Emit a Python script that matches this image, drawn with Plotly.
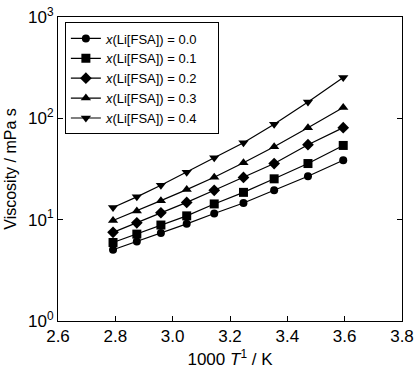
import plotly.graph_objects as go

inv_T = [2.792, 2.875, 2.959, 3.049, 3.145, 3.247, 3.354, 3.472, 3.595]

visc_00 = [5.05, 6.1, 7.4, 9.1, 11.5, 14.6, 19.5, 26.8, 38.6]
visc_01 = [5.95, 7.2, 8.85, 10.9, 14.3, 18.6, 25.3, 35.8, 54.0]
visc_02 = [7.5, 9.3, 11.7, 14.8, 19.5, 26.1, 35.8, 54.9, 80.9]
visc_03 = [9.8, 12.2, 15.4, 19.8, 26.2, 36.4, 52.5, 80.9, 127.7]
visc_04 = [13.2, 16.8, 21.9, 29.4, 40.8, 57.5, 87.3, 145.0, 253.0]

series_labels = ["0.0", "0.1", "0.2", "0.3", "0.4"]
series_values = [visc_00, visc_01, visc_02, visc_03, visc_04]
symbols = ["circle", "square", "diamond", "triangle-up", "triangle-down"]
sizes = [8, 9, 9, 9, 9]

x_ticks = [2.6, 2.8, 3.0, 3.2, 3.4, 3.6, 3.8]
x_ticktext = ["2.6", "2.8", "3.0", "3.2", "3.4", "3.6", "3.8"]
y_ticks = [1, 10, 100, 1000]
y_ticktext = ["10<sup>0</sup>", "10<sup>1</sup>", "10<sup>2</sup>", "10<sup>3</sup>"]

fig = go.Figure()
for lab, vals, sym, sz in zip(series_labels, series_values, symbols, sizes):
    fig.add_trace(go.Scatter(
        x=inv_T, y=vals, mode="lines+markers",
        name=f"<i>x</i>(Li[FSA]) = {lab}" + "\u00a0" * 4,
        line=dict(color="black", width=1.2),
        marker=dict(symbol=sym, size=sz, color="black"),
    ))

font = "Liberation Sans, Arial, sans-serif"
fig.update_layout(
    width=414, height=369,
    margin=dict(l=58, r=12, t=17, b=48),
    paper_bgcolor="white", plot_bgcolor="white",
    font=dict(family=font, size=14, color="black"),
    showlegend=True,
    legend=dict(
        x=0.02, y=0.982, xanchor="left", yanchor="top",
        bordercolor="black", borderwidth=1, bgcolor="white",
        font=dict(family=font, size=13, color="black"),
        tracegroupgap=0, itemwidth=30,
    ),
    xaxis=dict(
        range=[2.6, 3.8], tickvals=x_ticks, ticktext=x_ticktext,
        ticks="inside", ticklen=5, tickcolor="black",
        showline=True, linecolor="black", linewidth=1, mirror=True,
        showgrid=False, zeroline=False, automargin=False,
        tickfont=dict(size=17),
        title=dict(text="1000 <i>T</i><sup>1</sup> / K", font=dict(size=17), standoff=8),
    ),
    yaxis=dict(
        type="log", range=[0, 3], tickvals=y_ticks, ticktext=y_ticktext,
        ticks="inside", ticklen=5, tickcolor="black",
        showline=True, linecolor="black", linewidth=1, mirror="ticks",
        showgrid=False, zeroline=False, automargin=False,
        tickfont=dict(size=17),
        title=dict(text="Viscosity / mPa s", font=dict(size=16), standoff=7),
    ),
)

fig.write_html("out.html")
